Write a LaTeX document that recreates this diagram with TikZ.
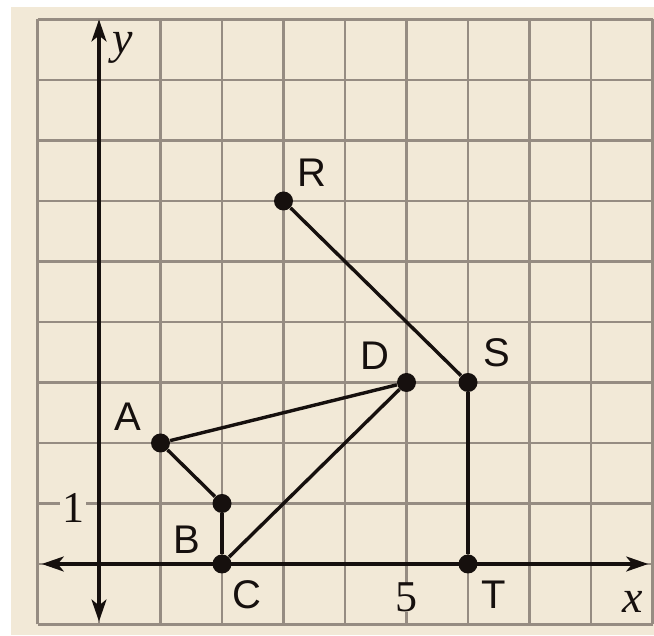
\documentclass[tikz,border=0pt]{standalone}
\usepackage{fontspec}
\setmainfont{Liberation Serif}
\newfontfamily\lblfont{Liberation Sans}
\usetikzlibrary{arrows.meta}
\definecolor{paper}{RGB}{242,233,215}
\definecolor{gridc}{RGB}{150,140,130}
\definecolor{ink}{RGB}{22,16,14}
\tikzset{
  gridline/.style={draw=gridc,line width=1.1pt},
  axisline/.style={draw=ink,line width=1.6pt,{Stealth[length=11pt,width=7.5pt,inset=3pt]}-{Stealth[length=11pt,width=7.5pt,inset=3pt]}},
  seg/.style={draw=ink,line width=1.7pt},
  dot/.style={circle,fill=ink,inner sep=0pt,minimum size=9.5pt},
  ptlabel/.style={font=\lblfont\fontsize{20}{22}\selectfont,text=ink,inner sep=0pt},
  numlabel/.style={font=\fontsize{22}{24}\selectfont,text=ink,inner sep=1pt},
  axislabel/.style={font=\fontsize{23}{25}\selectfont\itshape,text=ink,inner sep=0pt},
}
\begin{document}
\begin{tikzpicture}[x=30.75pt,y=30.25pt]
\useasboundingbox (-1.6098,-1.1901) rectangle (9.0244,9.3223);
\fill[paper] (-1.431,-1.1736) rectangle (9.0244,9.207);
\draw[gridline,step=1] (-1,-1) grid (9,9);
% tick labels
\node[numlabel,fill=paper] (one) at (-0.42,0.93) {1};
\node[numlabel,fill=paper,inner ysep=0pt] (five) at (5,-0.55) {5};
% axes
\coordinate (xl) at (-0.93,0);
\coordinate (xr) at (8.93,0);
\coordinate (yb) at (0,-0.95);
\coordinate (yt) at (0,9);
\draw[axisline] (xl) -- (xr);
\draw[axisline] (yb) -- (yt);
\node[axislabel] (xlab) at (8.68,-0.62) {x};
\node[axislabel] (ylab) at (0.39,8.53) {y};
% points
\node[dot] (A) at (1,2) {};
\node[dot] (B) at (2,1) {};
\node[dot] (C) at (2,0) {};
\node[dot] (D) at (5,3) {};
\node[dot] (R) at (3,6) {};
\node[dot] (S) at (6,3) {};
\node[dot] (T) at (6,0) {};
% segments
\draw[seg] (A) -- (D);
\draw[seg] (A) -- (B);
\draw[seg] (B) -- (C);
\draw[seg] (C) -- (D);
\draw[seg] (R) -- (S);
\draw[seg] (S) -- (T);
% labels
\node[ptlabel] (lR) at (3.46,6.46) {R};
\node[ptlabel] (lD) at (4.49,3.45) {D};
\node[ptlabel] (lS) at (6.47,3.50) {S};
\node[ptlabel] (lA) at (0.47,2.43) {A};
\node[ptlabel] (lB) at (1.43,0.40) {B};
\node[ptlabel] (lC) at (2.40,-0.51) {C};
\node[ptlabel] (lT) at (6.41,-0.51) {T};
\end{tikzpicture}
\end{document}
